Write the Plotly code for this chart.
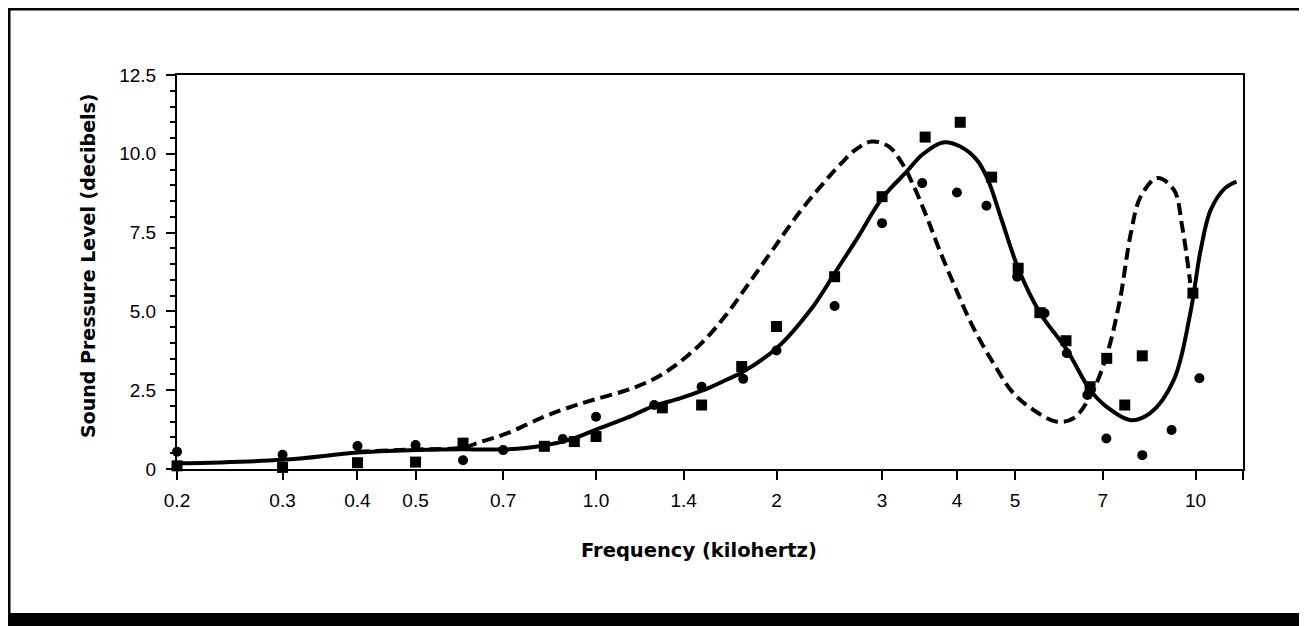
import plotly.graph_objects as go
import math

# ---- data ----
circle_x = [0.2, 0.3, 0.4, 0.5, 0.6, 0.7, 0.88, 1.0, 1.25, 1.5, 1.76, 2.0, 2.5, 3.0,
            3.5, 4.0, 4.48, 5.04, 5.6, 6.1, 6.6, 7.1, 8.15, 9.12, 10.15]
circle_y = [0.55, 0.45, 0.73, 0.76, 0.28, 0.6, 0.95, 1.66, 2.03, 2.61, 2.86, 3.76, 5.17, 7.8,
            9.07, 8.77, 8.35, 6.1, 4.94, 3.67, 2.35, 0.97, 0.44, 1.24, 2.88]

square_x = [0.2, 0.3, 0.4, 0.5, 0.6, 0.82, 0.92, 1.0, 1.29, 1.5, 1.75, 2.0, 2.5, 3.0,
            3.54, 4.05, 4.57, 5.06, 5.5, 6.08, 6.67, 7.11, 7.62, 8.15, 9.9]
square_y = [0.1, 0.05, 0.2, 0.22, 0.82, 0.72, 0.87, 1.03, 1.94, 2.03, 3.25, 4.52, 6.1, 8.64,
            10.53, 11.0, 9.26, 6.37, 4.96, 4.07, 2.61, 3.51, 2.03, 3.59, 5.58]

solid_x = [0.2, 0.3, 0.4, 0.5, 0.6, 0.7, 0.81, 0.91, 1.0, 1.125, 1.25, 1.38, 1.51, 1.65,
           1.75, 2.0, 2.3, 2.5, 2.75, 3.0, 3.3, 3.5, 3.79, 4.05, 4.32, 4.5, 4.75, 5.06,
           5.5, 6.1, 6.67, 7.1, 7.8, 8.4, 9.2, 9.8, 10.2, 10.6, 11.2, 11.7]
solid_y = [0.18, 0.29, 0.52, 0.6, 0.63, 0.62, 0.73, 0.95, 1.25, 1.62, 2.0, 2.24, 2.5, 2.83,
           3.06, 3.83, 5.15, 6.21, 7.43, 8.59, 9.44, 9.97, 10.36, 10.23, 9.8, 9.2, 7.9, 6.37,
           4.96, 3.78, 2.51, 1.98, 1.55, 1.77, 2.83, 4.94, 6.95, 8.22, 8.91, 9.12]

dashed_x = [0.4, 0.5, 0.6, 0.64, 0.71, 0.82, 0.91, 1.0, 1.125, 1.25, 1.37, 1.51, 1.65, 1.8,
            1.97, 2.18, 2.42, 2.55, 2.71, 2.88, 3.08, 3.24, 3.37, 3.56, 3.74, 3.99, 4.25,
            4.6, 4.97, 5.37, 5.87, 6.26, 6.67, 7.1, 7.48, 7.8, 8.1, 8.63, 9.2, 9.5, 9.8]
dashed_y = [0.55, 0.62, 0.68, 0.85, 1.13, 1.66, 1.98, 2.22, 2.5, 2.86, 3.35, 4.05, 4.9, 5.9,
            6.95, 8.12, 9.17, 9.65, 10.13, 10.39, 10.23, 9.7, 9.07, 8.01, 6.95, 5.68, 4.52,
            3.36, 2.4, 1.87, 1.5, 1.61, 2.3, 3.57, 5.37, 7.48, 8.64, 9.23, 8.86, 7.69, 5.9]

x_tickvals = [0.2, 0.3, 0.4, 0.5, 0.7, 1.0, 1.4, 2, 3, 4, 5, 7, 10, 12]
x_ticktext = ["0.2", "0.3", "0.4", "0.5", "0.7", "1.0", "1.4", "2", "3", "4", "5", "7", "10", ""]
y_tickvals = [0, 2.5, 5, 7.5, 10, 12.5]
y_ticktext = ["0", "2.5", "5.0", "7.5", "10.0", "12.5"]

# ---- layout geometry (pixels, page coords; page body has an 8px margin) ----
OFF = 8
W, H = 1307 - OFF, 626 - OFF
L, R, T, B = 177 - OFF, 1243 - OFF, 75 - OFF, 469 - OFF
pw, ph = R - L, B - T

def px(xp):  # page pixel -> paper x
    return (xp - OFF - L) / pw

def py(yp):  # page pixel -> paper y
    return (B - (yp - OFF)) / ph

FONT = "Liberation Sans, Arial, sans-serif"
TFONT = "DejaVu Sans, Liberation Sans, sans-serif"

fig = go.Figure()
fig.add_trace(go.Scatter(x=dashed_x, y=dashed_y, mode="lines", line_shape="spline",
                         line=dict(color="black", width=4, dash="12px,6px"),
                         showlegend=False, hoverinfo="skip"))
fig.add_trace(go.Scatter(x=solid_x, y=solid_y, mode="lines", line_shape="spline",
                         line=dict(color="black", width=4),
                         showlegend=False, hoverinfo="skip"))
fig.add_trace(go.Scatter(x=circle_x, y=circle_y, mode="markers", cliponaxis=False,
                         marker=dict(symbol="circle", size=10, color="black"),
                         showlegend=False))
fig.add_trace(go.Scatter(x=square_x, y=square_y, mode="markers", cliponaxis=False,
                         marker=dict(symbol="square", size=11, color="black"),
                         showlegend=False))

fig.update_layout(
    width=W, height=H,
    margin=dict(l=L, r=W - R, t=T, b=H - B, pad=0),
    paper_bgcolor="white", plot_bgcolor="white",
    font=dict(family=FONT, color="black", size=19),
    showlegend=False,
    xaxis=dict(type="log", range=[math.log10(0.2), math.log10(12)],
               tickvals=x_tickvals, ticktext=x_ticktext,
               ticks="outside", ticklen=9, tickwidth=2, tickcolor="black",
               ticklabelstandoff=4,
               showline=True, linecolor="black", linewidth=2, mirror=True,
               showgrid=False, zeroline=False, tickfont=dict(size=19, family=FONT)),
    yaxis=dict(range=[0, 12.5], tickvals=y_tickvals, ticktext=y_ticktext,
               ticks="outside", ticklen=9, tickwidth=2, tickcolor="black",
               ticklabelstandoff=6,
               minor=dict(dtick=0.5, ticks="outside", ticklen=5, tickwidth=1.5, tickcolor="black"),
               showline=True, linecolor="black", linewidth=2, mirror=True,
               showgrid=False, zeroline=False, tickfont=dict(size=19, family=FONT)),
)

fig.add_annotation(text="<b>Frequency (kilohertz)</b>", xref="paper", yref="paper",
                   x=px(699), y=py(550), xanchor="center", yanchor="middle",
                   showarrow=False, font=dict(size=19.5, family=TFONT))
fig.add_annotation(text="<b>Sound Pressure Level (decibels)</b>", xref="paper", yref="paper",
                   x=px(88), y=py(266), xanchor="center", yanchor="middle", textangle=-90,
                   showarrow=False, font=dict(size=19, family=TFONT))

# outer frame
fig.add_shape(type="line", xref="paper", yref="paper", x0=px(9), x1=px(9), y0=py(8), y1=py(620),
              line=dict(color="black", width=3))
fig.add_shape(type="line", xref="paper", yref="paper", x0=px(8), x1=px(1307), y0=py(9), y1=py(9),
              line=dict(color="black", width=3))
fig.add_shape(type="line", xref="paper", yref="paper", x0=px(1304), x1=px(1304), y0=py(9), y1=py(613),
              line=dict(color="#999999", width=1))
fig.add_shape(type="rect", xref="paper", yref="paper", x0=px(8), x1=px(1307), y0=py(613), y1=py(626),
              fillcolor="black", line=dict(width=0))

fig.write_html("out.html")
